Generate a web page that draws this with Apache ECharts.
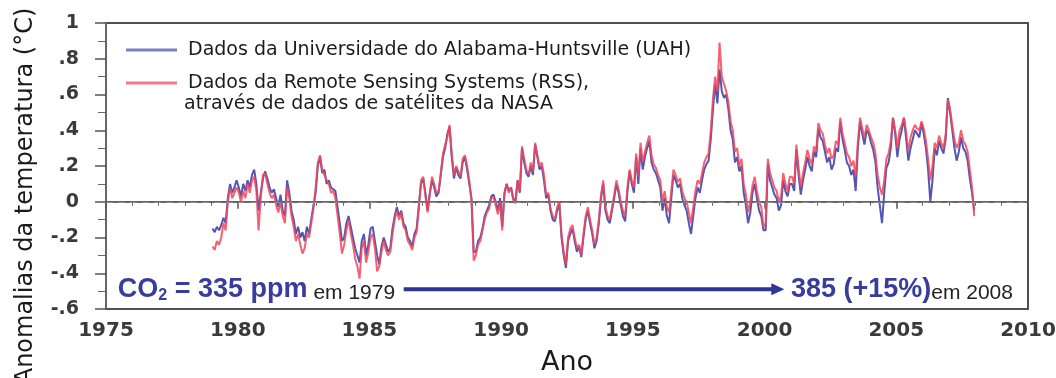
<!DOCTYPE html>
<html>
<head>
<meta charset="utf-8">
<script src="https://cdn.jsdelivr.net/npm/echarts@6/dist/echarts.min.js"></script>
<style>
  html, body { margin: 0; padding: 0; background: #ffffff; }
  #chart { width: 1056px; height: 378px; }
</style>
</head>
<body>
<div id="chart"></div>
<script>
// Monthly lower-troposphere temperature anomalies (°C), Jan 1979 – Dec 2007
const startYear = 1979;

// Universidade do Alabama-Huntsville (UAH)
const uahAnomaly = [
  -0.15,-0.17,-0.14,-0.16,-0.13,-0.09,-0.12, 0.02, 0.10, 0.05, 0.08, 0.12, // 1979
   0.08, 0.03, 0.10, 0.06, 0.12, 0.08, 0.15, 0.18, 0.10,-0.05, 0.05, 0.13, // 1980
   0.17, 0.13, 0.08, 0.05, 0.07, 0.02,-0.03, 0.04,-0.05,-0.08, 0.12, 0.05, // 1981
  -0.05,-0.10,-0.18,-0.14,-0.20,-0.17,-0.22,-0.14,-0.18,-0.10,-0.02, 0.05, // 1982
   0.20, 0.25, 0.16, 0.18, 0.10, 0.12, 0.08, 0.07, 0.06,-0.03,-0.12,-0.22, // 1983
  -0.20,-0.12,-0.08,-0.14,-0.20,-0.26,-0.30,-0.34,-0.22,-0.18,-0.30,-0.24, // 1984
  -0.15,-0.14,-0.22,-0.30,-0.35,-0.25,-0.20,-0.24,-0.28,-0.26,-0.15,-0.08, // 1985
  -0.03,-0.08,-0.05,-0.12,-0.14,-0.20,-0.22,-0.25,-0.18,-0.15,-0.02, 0.10, // 1986
   0.13, 0.05,-0.05, 0.05, 0.12, 0.08, 0.03, 0.05, 0.15, 0.25, 0.30, 0.38, // 1987
   0.42, 0.25, 0.13, 0.19, 0.15, 0.13, 0.22, 0.25, 0.18, 0.10, 0.02,-0.28, // 1988
  -0.28,-0.22,-0.20,-0.15,-0.08,-0.05,-0.02, 0.03, 0.04, 0.00,-0.05, 0.02, // 1989
  -0.14, 0.05, 0.10, 0.06, 0.08, 0.02, 0.00, 0.12, 0.05, 0.30, 0.22, 0.16, // 1990
   0.14, 0.20, 0.15, 0.32, 0.25, 0.18, 0.20, 0.12, 0.02, 0.04,-0.05,-0.10, // 1991
  -0.11,-0.05,-0.01,-0.20,-0.30,-0.37,-0.22,-0.18,-0.15,-0.22,-0.28,-0.25, // 1992
  -0.31,-0.20,-0.10,-0.05,-0.12,-0.18,-0.26,-0.22,-0.12, 0.02, 0.10,-0.05, // 1993
  -0.10,-0.12,-0.05, 0.02, 0.10, 0.05,-0.02,-0.08,-0.11, 0.05, 0.17, 0.10, // 1994
   0.05, 0.25, 0.10, 0.30, 0.18, 0.25, 0.30, 0.34, 0.22, 0.18, 0.16, 0.12, // 1995
   0.08,-0.05, 0.02,-0.08,-0.12, 0.02, 0.15, 0.12, 0.08, 0.10, 0.02,-0.02, // 1996
  -0.05,-0.12,-0.18,-0.08, 0.02, 0.08, 0.05, 0.12, 0.18, 0.21, 0.23, 0.35, // 1997
   0.52, 0.66, 0.55, 0.74, 0.62, 0.58, 0.60, 0.52, 0.40, 0.35, 0.22, 0.25, // 1998
   0.17, 0.20, 0.05,-0.02,-0.12,-0.06, 0.05, 0.10, 0.02,-0.05,-0.08,-0.16, // 1999
  -0.16, 0.21, 0.12, 0.08, 0.04, 0.02,-0.05,-0.02, 0.12, 0.06, 0.03, 0.10, // 2000
   0.10, 0.06, 0.29, 0.15, 0.04, 0.12, 0.18, 0.25, 0.20, 0.17, 0.28, 0.25, // 2001
   0.41, 0.36, 0.34, 0.28, 0.22, 0.25, 0.18, 0.21, 0.30, 0.28, 0.45, 0.35, // 2002
   0.29, 0.22, 0.20, 0.15, 0.18, 0.06, 0.30, 0.45, 0.38, 0.32, 0.40, 0.38, // 2003
   0.33, 0.29, 0.22, 0.08,-0.02,-0.12, 0.05, 0.19, 0.22, 0.30, 0.47, 0.38, // 2004
   0.25, 0.35, 0.40, 0.47, 0.35, 0.23, 0.30, 0.35, 0.40, 0.38, 0.36, 0.44, // 2005
   0.38, 0.30, 0.18, 0.00, 0.12, 0.30, 0.26, 0.34, 0.30, 0.27, 0.35, 0.58, // 2006
   0.50, 0.40, 0.30, 0.23, 0.28, 0.36, 0.30, 0.28, 0.23, 0.13, 0.05,-0.05  // 2007
];

// Remote Sensing Systems (RSS)
const rssAnomaly = [
  -0.25,-0.27,-0.22,-0.24,-0.20,-0.12,-0.16, 0.00, 0.08, 0.02, 0.05, 0.08, // 1979
   0.05, 0.00, 0.06, 0.02, 0.10, 0.05, 0.12, 0.14, 0.06,-0.16, 0.02, 0.15, // 1980
   0.16, 0.10, 0.05, 0.02, 0.04,-0.02,-0.06, 0.00,-0.08,-0.12, 0.08, 0.02, // 1981
  -0.08,-0.14,-0.22,-0.18,-0.24,-0.29,-0.26,-0.18,-0.20,-0.12,-0.04, 0.08, // 1982
   0.22, 0.26, 0.18, 0.15, 0.12, 0.10, 0.05, 0.06, 0.02,-0.08,-0.18,-0.29, // 1983
  -0.24,-0.16,-0.10,-0.18,-0.24,-0.32,-0.36,-0.43,-0.26,-0.22,-0.34,-0.28, // 1984
  -0.20,-0.18,-0.26,-0.39,-0.36,-0.28,-0.22,-0.27,-0.30,-0.28,-0.18,-0.10, // 1985
  -0.05,-0.10,-0.06,-0.14,-0.16,-0.22,-0.24,-0.27,-0.20,-0.17,-0.04, 0.12, // 1986
   0.14, 0.03,-0.06, 0.04, 0.14, 0.10, 0.05, 0.06, 0.16, 0.27, 0.32, 0.36, // 1987
   0.43, 0.27, 0.15, 0.20, 0.17, 0.14, 0.24, 0.26, 0.20, 0.12, 0.00,-0.33, // 1988
  -0.30,-0.24,-0.22,-0.16,-0.10,-0.06,-0.04, 0.02, 0.03,-0.02,-0.07, 0.00, // 1989
  -0.16, 0.04, 0.10, 0.05, 0.08, 0.01,-0.01, 0.12, 0.06, 0.31, 0.24, 0.18, // 1990
   0.15, 0.22, 0.17, 0.33, 0.26, 0.20, 0.22, 0.15, 0.04, 0.05,-0.04,-0.08, // 1991
  -0.10,-0.03, 0.00,-0.18,-0.28,-0.35,-0.20,-0.15,-0.13,-0.20,-0.26,-0.24, // 1992
  -0.30,-0.18,-0.08,-0.03,-0.10,-0.16,-0.24,-0.20,-0.10, 0.04, 0.12,-0.03, // 1993
  -0.08,-0.10,-0.03, 0.04, 0.12, 0.07, 0.00,-0.05,-0.08, 0.08, 0.18, 0.12, // 1994
   0.08, 0.27, 0.14, 0.33, 0.22, 0.28, 0.33, 0.37, 0.26, 0.21, 0.19, 0.15, // 1995
   0.12, 0.00, 0.06,-0.03,-0.06, 0.06, 0.18, 0.15, 0.11, 0.13, 0.06, 0.02, // 1996
   0.00,-0.06,-0.12,-0.03, 0.06, 0.12, 0.10, 0.16, 0.22, 0.25, 0.27, 0.40, // 1997
   0.58, 0.70, 0.62, 0.89, 0.70, 0.66, 0.62, 0.56, 0.45, 0.40, 0.28, 0.30, // 1998
   0.20, 0.24, 0.10, 0.04,-0.06, 0.00, 0.09, 0.14, 0.06, 0.00,-0.03,-0.14, // 1999
  -0.12, 0.24, 0.16, 0.12, 0.08, 0.06, 0.00, 0.03, 0.16, 0.10, 0.06, 0.14, // 2000
   0.14, 0.10, 0.32, 0.19, 0.08, 0.16, 0.22, 0.29, 0.24, 0.21, 0.31, 0.28, // 2001
   0.44, 0.40, 0.38, 0.32, 0.27, 0.30, 0.24, 0.26, 0.34, 0.32, 0.47, 0.38, // 2002
   0.33, 0.27, 0.25, 0.20, 0.23, 0.14, 0.34, 0.47, 0.41, 0.36, 0.43, 0.40, // 2003
   0.36, 0.33, 0.27, 0.15, 0.08, 0.04, 0.12, 0.24, 0.27, 0.34, 0.47, 0.40, // 2004
   0.30, 0.40, 0.43, 0.47, 0.39, 0.28, 0.36, 0.40, 0.43, 0.41, 0.40, 0.45, // 2005
   0.41, 0.34, 0.24, 0.12, 0.20, 0.33, 0.30, 0.37, 0.33, 0.30, 0.38, 0.57, // 2006
   0.52, 0.43, 0.35, 0.30, 0.33, 0.40, 0.34, 0.32, 0.28, 0.18, 0.08,-0.08  // 2007
];

const seriesNames = [
  'Dados da Universidade do Alabama-Huntsville (UAH)',
  'Dados da Remote Sensing Systems (RSS),'
];
const legendSecondLine = 'através de dados de satélites da NASA';

const xAxisName = 'Ano';
const yAxisName = 'Anomalias da temperatura (°C)';

// CO2 note: start and end concentrations
const co2Start = { ppm: 335, year: 1979 };
const co2End = { ppm: 385, change: '+15%', year: 2008 };

// Year (decimal, mid-month) for each monthly value
const toPoints = arr => arr.map((v, i) => [startYear + (i + 0.5) / 12, v]);

// ".8", "-.2", "0", "1" style tick labels
const yLabel = v => {
  const r = Math.round(v * 10) / 10;
  if (r === 0) return '0';
  if (Math.abs(r) === 1) return String(r);
  return (r < 0 ? '-' : '') + String(Math.abs(r)).replace(/^0/, '');
};

const chart = echarts.init(document.getElementById('chart'), null, { renderer: 'canvas' });

const uahColor = '#5357b2';
const rssColor = '#f2455a';
const uahKey = '#7a7ec4';
const rssKey = '#f3788e';
const textFont = 'DejaVu Sans';
const boldFont = 'Liberation Sans';

chart.setOption({
  animation: false,
  backgroundColor: '#ffffff',
  grid: {
    left: 106, right: 28, top: 23, bottom: 69,
    containLabel: false,
    outerBoundsMode: 'none',
    show: true, borderColor: '#505050', borderWidth: 2, backgroundColor: 'transparent'
  },
  legend: {
    orient: 'vertical',
    left: 121, top: 35,
    icon: 'rect',
    itemWidth: 51, itemHeight: 3, itemGap: 13,
    data: [
      { name: seriesNames[0], itemStyle: { color: uahKey } },
      { name: seriesNames[1], itemStyle: { color: rssKey } }
    ],
    textStyle: {
      fontFamily: textFont, fontSize: 19, color: '#1c1c1c',
      lineHeight: 20, padding: [0, 0, 0, 6]
    }
  },
  xAxis: {
    type: 'value',
    min: 1975, max: 2010, interval: 5,
    name: xAxisName,
    nameLocation: 'middle', nameGap: 40,
    nameTextStyle: { fontFamily: textFont, fontSize: 27, color: '#1a1a1a' },
    axisLine: { lineStyle: { color: '#666', width: 2 } },
    axisTick: { length: 7, lineStyle: { color: '#555', width: 1.5 } },
    minorTick: { show: true, splitNumber: 5, length: 4, lineStyle: { color: '#666', width: 1 } },
    axisLabel: {
      margin: 12, fontFamily: textFont, fontWeight: 'bold', fontSize: 20, color: '#3a3a3a',
      formatter: v => String(v)
    },
    splitLine: { show: false }
  },
  yAxis: {
    type: 'value',
    min: -0.6, max: 1, interval: 0.2,
    axisLine: { show: true, lineStyle: { color: '#666', width: 2 } },
    axisTick: { show: true, length: 11, lineStyle: { color: '#555', width: 1.5 } },
    minorTick: { show: true, splitNumber: 2, length: 8, lineStyle: { color: '#666', width: 1 } },
    axisLabel: {
      margin: 27, fontFamily: textFont, fontWeight: 'bold', fontSize: 19, color: '#3a3a3a',
      formatter: yLabel
    },
    splitLine: { show: false }
  },
  series: [
    {
      name: seriesNames[0],
      type: 'line',
      data: toPoints(uahAnomaly),
      symbol: 'none',
      lineStyle: { color: uahColor, width: 2 },
      itemStyle: { color: uahColor },
      z: 2,
      markLine: {
        silent: true,
        symbol: 'none',
        label: { show: false },
        lineStyle: { color: '#8c8c8c', width: 1, type: [7, 5] },
        data: [{ yAxis: 0 }]
      }
    },
    {
      name: seriesNames[1],
      type: 'line',
      data: toPoints(rssAnomaly),
      symbol: 'none',
      lineStyle: { color: rssColor, width: 2, opacity: 0.85 },
      itemStyle: { color: rssColor },
      z: 3
    }
  ]
});

// Annotations placed in data coordinates
const px = (x, y) => chart.convertToPixel({ gridIndex: 0 }, [x, y]);
const noteY = -0.49;
const left = px(1975.45, noteY);
const arrowA = px(1986.3, noteY);
const arrowB = px(2000.75, noteY);
const right = px(2001.0, noteY);

const co2Blue = '#383c9c';
const arrowBlue = '#2f3592';

chart.setOption({
  graphic: [
    {
      type: 'text',
      x: left[0], y: left[1],
      style: {
        text: '{b|CO}{s|2}{b| = ' + co2Start.ppm + ' ppm}{n| em ' + co2Start.year + '}',
        align: 'left', verticalAlign: 'middle',
        rich: {
          b: { fontFamily: boldFont, fontWeight: 'bold', fontSize: 27, fill: co2Blue, lineHeight: 29 },
          s: { fontFamily: boldFont, fontWeight: 'bold', fontSize: 16, fill: co2Blue, lineHeight: 17, verticalAlign: 'bottom' },
          n: { fontFamily: boldFont, fontSize: 21, fill: '#222', lineHeight: 23, verticalAlign: 'bottom' }
        }
      }
    },
    {
      type: 'line',
      shape: { x1: arrowA[0], y1: arrowA[1], x2: arrowB[0] - 10, y2: arrowB[1] },
      style: { stroke: arrowBlue, lineWidth: 4 }
    },
    {
      type: 'polygon',
      shape: { points: [[arrowB[0] - 13, arrowB[1] - 6], [arrowB[0], arrowB[1]], [arrowB[0] - 13, arrowB[1] + 6]] },
      style: { fill: arrowBlue }
    },
    {
      type: 'text',
      x: right[0], y: right[1],
      style: {
        text: '{b|' + co2End.ppm + ' (' + co2End.change + ')}{n|em ' + co2End.year + '}',
        align: 'left', verticalAlign: 'middle',
        rich: {
          b: { fontFamily: boldFont, fontWeight: 'bold', fontSize: 27, fill: co2Blue, lineHeight: 29 },
          n: { fontFamily: boldFont, fontSize: 21, fill: '#222', lineHeight: 23, verticalAlign: 'bottom' }
        }
      }
    },
    {
      type: 'text',
      x: 184, y: 104,
      style: {
        text: legendSecondLine,
        fontFamily: textFont, fontSize: 19, fill: '#1c1c1c',
        align: 'left', verticalAlign: 'middle'
      }
    },
    {
      type: 'text',
      x: 26, y: 196,
      rotation: Math.PI / 2,
      style: {
        text: yAxisName,
        fontFamily: textFont, fontSize: 24, fill: '#1a1a1a',
        align: 'center', verticalAlign: 'middle'
      }
    }
  ]
});
</script>
</body>
</html>
